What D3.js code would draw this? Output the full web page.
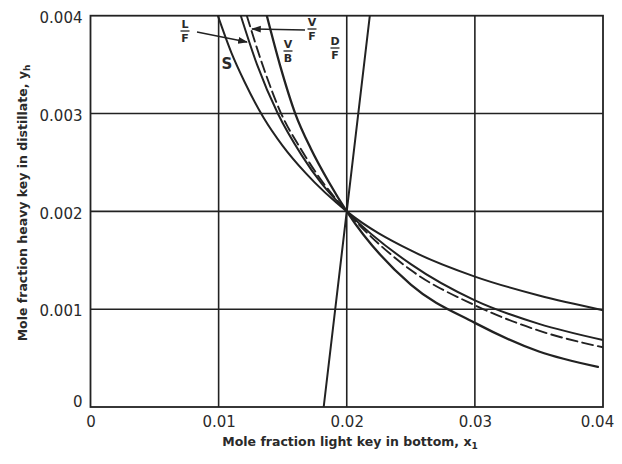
<!DOCTYPE html>
<html><head><meta charset="utf-8">
<script src="https://cdn.jsdelivr.net/npm/d3@7"></script>
<style>
html,body{margin:0;padding:0;background:#fff;}
svg{display:block;}
text{font-family:"DejaVu Sans",sans-serif;fill:#2a2a2a;}
</style></head>
<body>
<svg id="c" width="622" height="464"></svg>
<script>
// ---- data ----
const xTicks = [0, 0.01, 0.02, 0.03, 0.04];
const yTicks = [0, 0.001, 0.002, 0.003, 0.004];
const xTickLabels = ["0", "0.01", "0.02", "0.03", "0.04"];
const yTickLabels = ["0", "0.001", "0.002", "0.003", "0.004"];
const xTitle = "Mole  fraction light key in bottom, x";
const yTitle = "Mole  fraction heavy key in distillate, y";
// curves (x1, yh)
const curveS  = [[0.00994,0.004],[0.011,0.00362],[0.012,0.00333],[0.0135,0.00296],[0.015,0.00267],[0.0168,0.00239],[0.02,0.002],[0.025,0.0016],[0.03,0.001333],[0.035,0.00114],[0.04,0.00099]];
const curveLF = [[0.01173,0.004],[0.013,0.0035],[0.01462,0.003],[0.0165,0.00257],[0.018,0.00229],[0.02,0.002],[0.025,0.00146],[0.03,0.00109],[0.035,0.00085],[0.04,0.000685]];
const curveVF = [[0.0122,0.004],[0.0135,0.00347],[0.01488,0.003],[0.0165,0.00262],[0.018,0.00232],[0.02,0.002],[0.025,0.0014],[0.03,0.00104],[0.035,0.00078],[0.04,0.00061]];
const curveVB = [[0.01376,0.004],[0.0148,0.00349],[0.01598,0.003],[0.0172,0.00264],[0.0186,0.0023],[0.02,0.002],[0.025,0.00125],[0.03,0.00086],[0.035,0.000567],[0.0396,0.00041]];
const lineDF  = [[0.0182,0],[0.0218,0.004]];

const svg = d3.select("#c");
const x = d3.scaleLinear().domain([0,0.04]).range([90.5,603]);
const y = d3.scaleLinear().domain([0,0.004]).range([407,15.7]);
const ink = "#222";

// grid
const g = svg.append("g");
g.selectAll(".vg").data(xTicks.slice(1,4)).join("line")
  .attr("x1",d=>x(d)).attr("x2",d=>x(d)).attr("y1",y(0)).attr("y2",y(0.004))
  .attr("stroke",ink).attr("stroke-width",1.6);
g.selectAll(".hg").data(yTicks.slice(1,4)).join("line")
  .attr("x1",x(0)).attr("x2",x(0.04)).attr("y1",d=>y(d)).attr("y2",d=>y(d))
  .attr("stroke",ink).attr("stroke-width",1.6);
g.append("rect").attr("x",x(0)).attr("y",y(0.004)).attr("width",x(0.04)-x(0)).attr("height",y(0)-y(0.004))
  .attr("fill","none").attr("stroke",ink).attr("stroke-width",1.8);

// axes labels
const xa = svg.append("g").attr("transform",`translate(0,${y(0)})`)
  .call(d3.axisBottom(x).tickValues(xTicks).tickSize(0).tickPadding(9).tickFormat((d,i)=>xTickLabels[i]));
xa.select(".domain").remove();
xa.selectAll("text").style("font-size","15px").style("font-family","DejaVu Sans").attr("fill","#2a2a2a")
  .attr("dx",(d)=> d===0.04 ? "-0.4em" : 0);
const ya = svg.append("g").attr("transform",`translate(${x(0)},0)`)
  .call(d3.axisLeft(y).tickValues(yTicks).tickSize(0).tickPadding(8).tickFormat((d,i)=>yTickLabels[i]));
ya.select(".domain").remove();
ya.selectAll("text").style("font-size","15px").style("font-family","DejaVu Sans").attr("fill","#2a2a2a")
  .attr("dy",(d)=> d===0 ? "-0.05em" : "0.45em");

// titles
const xt = svg.append("text").attr("x",350).attr("y",446).attr("text-anchor","middle")
  .style("font-size","12.5px").style("font-weight","bold");
xt.append("tspan").text(xTitle);
xt.append("tspan").attr("dy",3).style("font-size","9px").text("1");
const yt = svg.append("text").attr("transform",`translate(27,203) rotate(-90)`).attr("text-anchor","middle")
  .style("font-size","12.5px").style("font-weight","bold");
yt.append("tspan").text(yTitle);
yt.append("tspan").attr("dy",3).style("font-size","9px").text("h");

// curves
svg.append("clipPath").attr("id","clip").append("rect")
  .attr("x",x(0)).attr("y",y(0.004)).attr("width",x(0.04)-x(0)).attr("height",y(0)-y(0.004));
const cg = svg.append("g").attr("clip-path","url(#clip)");
const line = d3.line().x(d=>x(d[0])).y(d=>y(d[1])).curve(d3.curveMonotoneX);
function draw(data, w, dash){
  cg.append("path").datum(data).attr("d",line).attr("fill","none")
    .attr("stroke",ink).attr("stroke-width",w).attr("stroke-dasharray",dash||null).attr("stroke-linecap","round");
}
draw(curveS,2);
draw(curveLF,2);
draw(curveVF,1.9,"11,5");
draw(curveVB,2.3);
draw(lineDF,2);

// annotations
const defs = svg.append("defs");
defs.append("marker").attr("id","ah").attr("viewBox","0 0 10 10").attr("refX",9).attr("refY",5)
  .attr("markerWidth",7).attr("markerHeight",7).attr("orient","auto")
  .append("path").attr("d","M0,1.5 L10,5 L0,8.5 Z").attr("fill",ink);
function frac(cx, top, a, b){
  svg.append("text").attr("x",cx).attr("y",top).attr("text-anchor","middle").style("font-size","11px").style("font-weight","bold").text(a);
  svg.append("line").attr("x1",cx-4.5).attr("x2",cx+4.5).attr("y1",top+3).attr("y2",top+3).attr("stroke",ink).attr("stroke-width",1.3);
  svg.append("text").attr("x",cx).attr("y",top+14).attr("text-anchor","middle").style("font-size","11px").style("font-weight","bold").text(b);
}
frac(185,28,"L","F");
frac(312,26,"V","F");
frac(288,48,"V","B");
frac(335,45,"D","F");
svg.append("text").attr("x",227).attr("y",69).attr("text-anchor","middle").style("font-size","15px").style("font-weight","bold").text("S");
svg.append("line").attr("x1",197).attr("y1",32).attr("x2",247).attr("y2",42).attr("stroke",ink).attr("stroke-width",1.4).attr("marker-end","url(#ah)");
svg.append("line").attr("x1",305).attr("y1",30).attr("x2",252).attr("y2",29).attr("stroke",ink).attr("stroke-width",1.4).attr("marker-end","url(#ah)");
</script>
</body></html>
